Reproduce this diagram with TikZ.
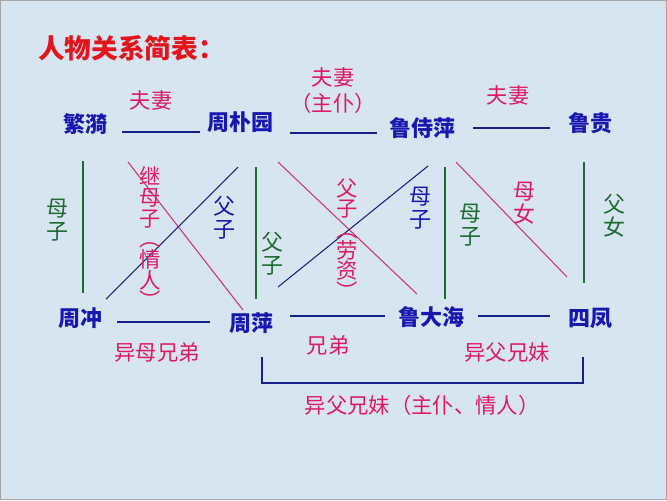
\documentclass[tikz,border=0pt]{standalone}
\usepackage{fontspec}
\usepackage{tikz}
\newfontfamily\cjk{Noto Sans CJK SC}
\definecolor{bgblue}{HTML}{D7E5F1}
\definecolor{titlered}{HTML}{E3151C}
\definecolor{nameblue}{HTML}{1818B0}
\definecolor{relred}{HTML}{DC1A62}
\definecolor{relgreen}{HTML}{1E6A32}
\definecolor{linkblue}{HTML}{16228A}
\definecolor{linkred}{HTML}{C8386A}

\begin{document}
\begin{tikzpicture}[x=0.75pt,y=-0.75pt,
  person/.style={font=\cjk\bfseries\fontsize{16.5}{18}\selectfont,text=nameblue,inner sep=0pt},
  rel/.style={font=\cjk\fontsize{16}{19.5}\selectfont,text=relred,inner sep=0pt,align=center},
  vrel/.style={font=\cjk\fontsize{16.5}{17.5}\selectfont,inner sep=0pt,align=center},
  vlong/.style={vrel,text=relred,font=\cjk\fontsize{16}{15.5}\selectfont},
  link/.style={draw=linkblue,line width=1.1pt},
  cross/.style={line width=0.8pt},
  kin/.style={draw=relgreen,line width=1pt}]
  \fill[bgblue] (0,0) rectangle (667,500);
  \draw[gray!70,line width=0.6pt] (0.5,0.5) rectangle (666.5,499.5);
  \useasboundingbox (0,0) rectangle (667,500);

  \node[anchor=west,font=\cjk\bfseries\fontsize{20}{22}\selectfont,text=titlered,inner sep=0pt] (title) at (38,48) {人物关系简表：};

  % first generation
  \node[person] (fy)  at (85,124)  {繁漪};
  \node[person] (zpy) at (240,122) {周朴园};
  \node[person] (lsp) at (422,128) {鲁侍萍};
  \node[person] (lg)  at (590,123) {鲁贵};
  % second generation
  \node[person] (zc)  at (80,318)  {周冲};
  \node[person] (zp)  at (251,323) {周萍};
  \node[person] (ldh) at (431,317) {鲁大海};
  \node[person] (sf)  at (590,318) {四凤};

  \draw[link] ([shift={(37,8)}]fy.center)   -- ([shift={(-40,10)}]zpy.center);
  \draw[link] ([shift={(50,11)}]zpy.center) -- ([shift={(-45,5)}]lsp.center);
  \draw[link] ([shift={(51,0)}]lsp.center)  -- ([shift={(-40,5)}]lg.center);
  \draw[link] ([shift={(37,4)}]zc.center)   -- ([shift={(-41,-1)}]zp.center);
  \draw[link] ([shift={(39,-7)}]zp.center)  -- ([shift={(-46,-1)}]ldh.center);
  \draw[link] ([shift={(47,-1)}]ldh.center) -- ([shift={(-40,-2)}]sf.center);

  \node[rel] (fq1) at (151,100) {夫妻};
  \node[rel] (fq2) at (333,91)  {夫妻\\（主仆）};
  \node[rel] (fq3) at (508,95)  {夫妻};
  \node[rel] (xd1) at (157,352) {异母兄弟};
  \node[rel] (xd2) at (328,345) {兄弟};
  \node[rel] (xm1) at (507,352) {异父兄妹};

  % parent -- child
  \draw[kin] ([shift={(-2,37)}]fy.center)  -- ([shift={(3,-25)}]zc.center);
  \draw[kin] ([shift={(16,45)}]zpy.center) -- ([shift={(5,-24)}]zp.center);
  \draw[kin] ([shift={(23,39)}]lsp.center) -- ([shift={(14,-18)}]ldh.center);
  \draw[kin] ([shift={(-6,39)}]lg.center)  -- ([shift={(-6,-35)}]sf.center);
  \draw[cross,linkred]  ([shift={(43,38)}]fy.center)  -- ([shift={(-8,-13)}]zp.center);
  \draw[cross,linkblue] ([shift={(-2,45)}]zpy.center) -- ([shift={(26,-19)}]zc.center);
  \draw[cross,linkred]  ([shift={(38,40)}]zpy.center) -- ([shift={(-14,-23)}]ldh.center);
  \draw[cross,linkblue] ([shift={(6,38)}]lsp.center)  -- ([shift={(27,-36)}]zp.center);
  \draw[cross,linkred]  ([shift={(34,34)}]lsp.center) -- ([shift={(-23,-41)}]sf.center);

  \node[vrel,text=relgreen] (mz1) at (57,220)  {母\\子};
  \node[vlong] (jmz) at (150,238) {继\\母\\子\\︵\\情\\人\\︶};
  \node[vrel,text=nameblue] (fz1) at (224,218) {父\\子};
  \node[vrel,text=relgreen] (fz2) at (272,254) {父\\子};
  \node[vlong] (fzl) at (347,239) {父\\子\\︵\\劳\\资\\︶};
  \node[vrel,text=nameblue] (mz2) at (420,208) {母\\子};
  \node[vrel,text=relgreen] (mz3) at (470,225) {母\\子};
  \node[vrel,text=relred]   (mn)  at (524,203) {母\\女};
  \node[vrel,text=relgreen] (fn)  at (614,216) {父\\女};

  \draw[link] ([shift={(11,34)}]zp.center) -- ++(0,26) -| ([shift={(-7,39)}]sf.center);
  \node[rel] (xm2) at (422,405) {异父兄妹（主仆、情人）};
\end{tikzpicture}
\end{document}
